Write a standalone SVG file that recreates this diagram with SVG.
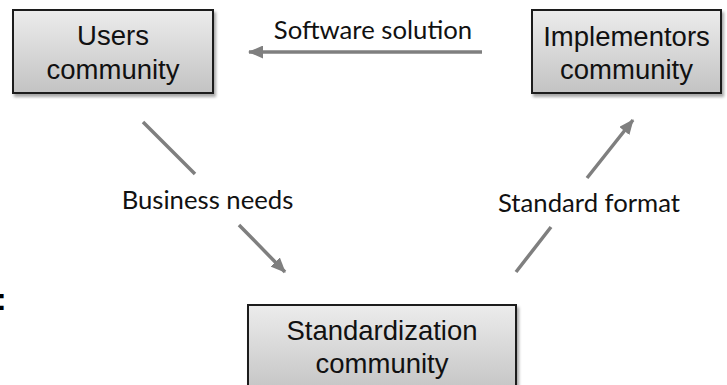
<svg xmlns="http://www.w3.org/2000/svg" width="727" height="385" viewBox="0 0 727 385">
  <defs>
    <linearGradient id="boxFill" x1="0" y1="0" x2="0" y2="1">
      <stop offset="0" stop-color="#ececec"/>
      <stop offset="1" stop-color="#c3c3c3"/>
    </linearGradient>
    <filter id="shadow" x="-10%" y="-10%" width="130%" height="140%">
      <feDropShadow dx="2" dy="3" stdDeviation="1.8" flood-color="#000" flood-opacity="0.35"/>
    </filter>
    <marker id="arrow" viewBox="0 0 15 13" refX="14" refY="6.5" markerWidth="15" markerHeight="13" markerUnits="userSpaceOnUse" orient="auto">
      <path d="M0,0 L15,6.5 L0,13 Z" fill="#7f7f7f"/>
    </marker>
  </defs>
  <style>
    .box { fill: url(#boxFill); stroke: #1e1e1e; stroke-width: 2; filter: url(#shadow); }
    .node-text { font-family: "Liberation Sans", Arial, sans-serif; font-size: 27.5px; fill: #111; text-anchor: middle; }
    .label { font-family: "Lato", "Open Sans", sans-serif; font-size: 25.7px; fill: #111; text-anchor: middle; }
    .conn { fill: none; stroke: #7f7f7f; stroke-width: 3.5; marker-end: url(#arrow); }
  </style>
  <rect width="727" height="385" fill="#ffffff"/>

  <g id="connectors">
    <path class="conn" d="M482,52 L249,52"/>
    <path class="conn" d="M143,122 L195,174 M239,225 L285,272"/>
    <path class="conn" d="M516,272 L551,227 M587,178 L633,120"/>
  </g>

  <g id="labels">
    <text class="label" x="373" y="39">Software solution</text>
    <text class="label" x="207.5" y="209">Business needs</text>
    <text class="label" x="589" y="212">Standard format</text>
  </g>

  <g id="users">
    <rect class="box" x="13" y="10" width="200" height="83"/>
    <text class="node-text" x="113" y="45">Users</text>
    <text class="node-text" x="113" y="79">community</text>
  </g>

  <g id="implementors">
    <rect class="box" x="532" y="10" width="189" height="83"/>
    <text class="node-text" x="626.5" y="46">Implementors</text>
    <text class="node-text" x="626.5" y="79">community</text>
  </g>

  <g id="standardization">
    <rect class="box" x="248" y="305" width="268" height="90"/>
    <text class="node-text" x="382" y="340">Standardization</text>
    <text class="node-text" x="382" y="373">community</text>
  </g>

  <text x="-4" y="310" font-family="'Liberation Sans', Arial, sans-serif" font-size="32" font-weight="bold" fill="#000">:</text>
</svg>
